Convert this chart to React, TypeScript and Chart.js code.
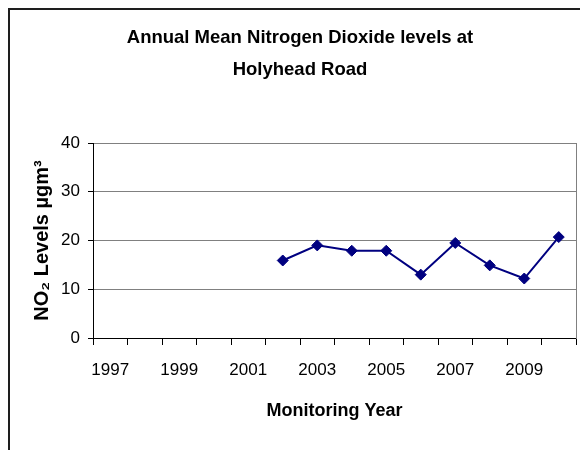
import { useEffect, useRef } from 'react';
import { Chart, registerables } from 'chart.js';

Chart.register(...registerables);

const years = ['1997', '1998', '1999', '2000', '2001', '2002', '2003', '2004', '2005', '2006', '2007', '2008', '2009', '2010'];
const no2Values = [null, null, null, null, null, 15.9, 19.0, 17.9, 17.9, 13.0, 19.5, 14.9, 12.2, 20.7];
const yTicks = [0, 10, 20, 30, 40];
const titleLines = ['Annual Mean Nitrogen Dioxide levels at', 'Holyhead Road'];
const xTitle = 'Monitoring Year';
const yTitle = 'NO₂ Levels µgm³';

const FONT = "'Liberation Sans', Arial, Helvetica, sans-serif";
const W = 580;
const H = 442;

const framePlugin = {
  id: 'outerFrame',
  afterDraw(chart: any) {
    const ctx = chart.ctx;
    ctx.save();
    ctx.fillStyle = '#1e1e1e';
    ctx.fillRect(0, 0, chart.width, 2);
    ctx.fillRect(0, 0, 2, chart.height);
    ctx.restore();
  },
};

export default function App() {
  const ref = useRef<HTMLCanvasElement | null>(null);

  useEffect(() => {
    if (!ref.current) return;
    const chart = new Chart(ref.current, {
      type: 'line',
      plugins: [framePlugin],
      data: {
        labels: years,
        datasets: [
          {
            data: no2Values,
            borderColor: '#000080',
            backgroundColor: '#000080',
            borderWidth: 2,
            pointStyle: 'rectRot',
            pointRadius: 5.5,
            pointBackgroundColor: '#000080',
            pointBorderColor: '#000080',
            pointBorderWidth: 1,
            spanGaps: false,
            tension: 0,
          },
        ],
      },
      options: {
        responsive: false,
        animation: false,
        layout: { padding: { left: 4, right: 0, top: 0, bottom: 0 } },
        plugins: {
          legend: { display: false },
          tooltip: { enabled: false },
          title: {
            display: true,
            text: titleLines,
            color: '#000',
            font: { family: FONT, size: 18.5, weight: 'bold', lineHeight: 32 / 18.5 },
            padding: { top: 14, bottom: 57 },
          },
        },
        scales: {
          x: {
            type: 'category',
            offset: true,
            grid: {
              offset: true,
              drawOnChartArea: false,
              drawTicks: true,
              tickLength: 7,
              color: '#000',
              tickColor: '#000',
            },
            border: { display: true, color: '#000', width: 1 },
            ticks: {
              autoSkip: false,
              maxRotation: 0,
              padding: 15,
              color: '#000',
              font: { family: FONT, size: 17 },
              callback: function (this: any, v: any, i: number) {
                return i % 2 === 0 ? this.getLabelForValue(v) : '';
              },
            },
            title: {
              display: true,
              text: xTitle,
              color: '#000',
              font: { family: FONT, size: 18, weight: 'bold' },
              padding: { top: 0, bottom: 28 },
            },
            afterFit: (s: any) => {
              s.height = 112;
            },
          },
          y: {
            min: 0,
            max: 40,
            afterBuildTicks: (s: any) => {
              s.ticks = yTicks.map((v) => ({ value: v }));
            },
            grid: {
              color: (c: any) => (c.tick && c.tick.value === 0 ? '#000' : '#808080'),
              tickColor: '#000',
              tickLength: 5,
              lineWidth: 1,
            },
            border: { display: true, color: '#000', width: 1 },
            ticks: {
              padding: 8,
              color: '#000',
              font: { family: FONT, size: 17 },
            },
            title: {
              display: true,
              text: yTitle,
              color: '#000',
              font: { family: FONT, size: 20, weight: 'bold' },
              padding: { top: 18, bottom: 0 },
            },
            afterFit: (s: any) => {
              s.width = 81;
            },
          },
          y2: {
            position: 'right',
            min: 0,
            max: 40,
            ticks: { display: false },
            grid: { drawOnChartArea: false, drawTicks: false },
            border: { display: true, color: '#808080', width: 1 },
            afterFit: (s: any) => {
              s.width = 12;
            },
          },
        },
      },
    } as any);
    return () => chart.destroy();
  }, []);

  return (
    <div style={{ position: 'relative', width: W, height: H }}>
      <canvas ref={ref} width={W} height={H} style={{ display: 'block', width: W, height: H }} />
    </div>
  );
}
